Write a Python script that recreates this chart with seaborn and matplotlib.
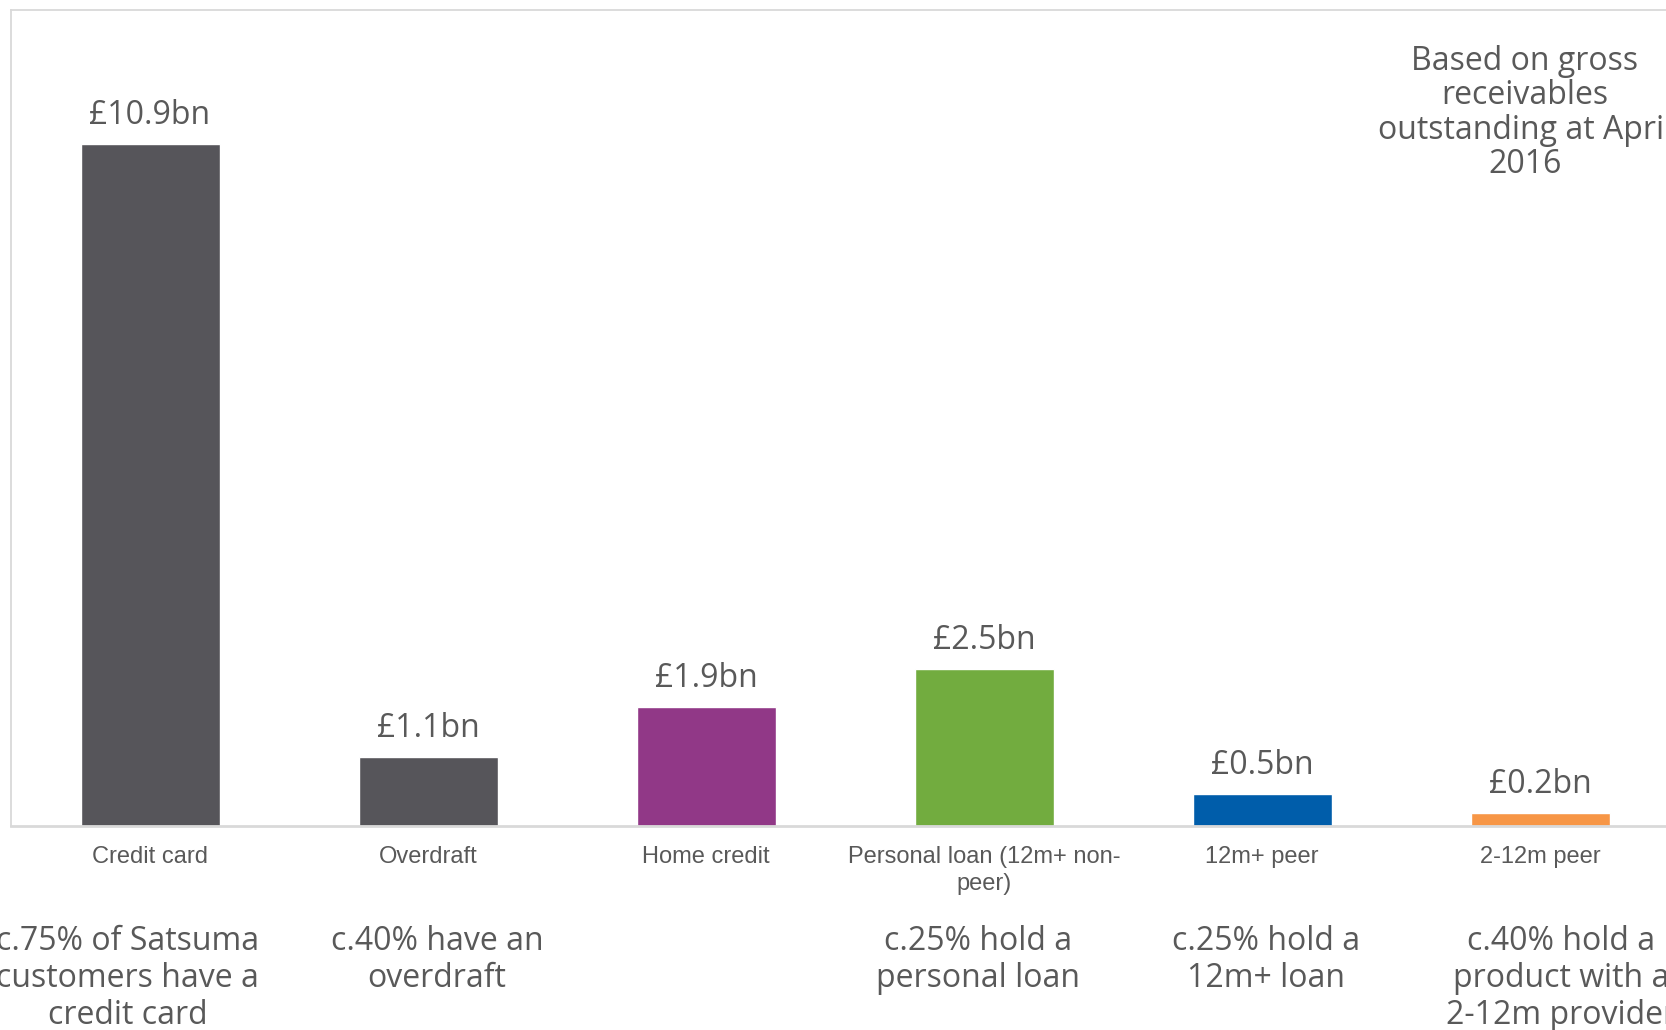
import matplotlib
matplotlib.use("Agg")
import matplotlib.pyplot as plt
import seaborn as sns
import pandas as pd

# Data
categories = ["Credit card", "Overdraft", "Home credit",
              "Personal loan (12m+ non-\npeer)", "12m+ peer", "2-12m peer"]
receivables_bn = [10.9, 1.1, 1.9, 2.5, 0.5, 0.2]
value_labels = ["£10.9bn", "£1.1bn", "£1.9bn", "£2.5bn", "£0.5bn", "£0.2bn"]
bar_colors = ["#56555a", "#56555a", "#913887", "#72ac3f", "#005daa", "#f79646"]
holding_notes = [
    "c.75% of Satsuma\ncustomers have a\ncredit card",
    "c.40% have an\noverdraft",
    "",
    "c.25% hold a\npersonal loan",
    "c.25% hold a\n12m+ loan",
    "c.40% hold a\nproduct with a\n2-12m provider",
]
basis_note = "Based on gross\nreceivables\noutstanding at April\n2016"

TEXT = "#595959"
FRAME = "#d9d9d9"

sns.set_theme(style="white")
plt.rcParams["font.family"] = ["Open Sans", "DejaVu Sans"]

W, H = 1666, 1030
fig = plt.figure(figsize=(W / 100, H / 100), dpi=100)
ax_left, ax_right, ax_top, ax_bottom = 11, 1679, 10, 825.5
ax = fig.add_axes([ax_left / W, (H - ax_bottom) / H,
                   (ax_right - ax_left) / W, (ax_bottom - ax_top) / H])

df = pd.DataFrame({"category": categories, "value": receivables_bn})
sns.barplot(data=df, x="category", y="value", hue="category",
            palette=bar_colors, width=0.5, saturation=1, legend=False, ax=ax)

ax.set_xlim(-0.5, 5.5)
ax.set_ylim(0, 13.04)
ax.set_xlabel("")
ax.set_ylabel("")
ax.set_yticks([])

for s in ["top", "left"]:
    ax.spines[s].set_color(FRAME)
    ax.spines[s].set_linewidth(1.3)
ax.spines["bottom"].set_color(FRAME)
ax.spines["bottom"].set_linewidth(2.0)
ax.spines["right"].set_visible(False)

ax.tick_params(axis="x", length=0, pad=15)
ax.set_xticks(range(len(categories)))
ax.set_xticklabels(categories, fontfamily="Liberation Sans", fontsize=17,
                   color=TEXT, linespacing=1.25)

# Value labels above each bar
for i, (v, lab) in enumerate(zip(receivables_bn, value_labels)):
    ax.annotate(lab, xy=(i, v), xytext=(0, 20.5), textcoords="offset points",
                ha="center", va="center", fontsize=23, color=TEXT)

# Customer holding notes under the axis
note_x = [-0.081, 1.032, 2.0, 2.977, 4.016, 5.075]
xtrans = ax.get_xaxis_transform()
for x, txt in zip(note_x, holding_notes):
    if txt:
        ax.text(x, -0.122, txt, transform=xtrans, ha="center", va="top",
                fontsize=23, color=TEXT, linespacing=1.16, clip_on=False)

ax.text(4.946, 0.957, basis_note, transform=xtrans, ha="center", va="top",
        fontsize=23, color=TEXT, linespacing=1.05)

fig.savefig("out.png", dpi=100)
